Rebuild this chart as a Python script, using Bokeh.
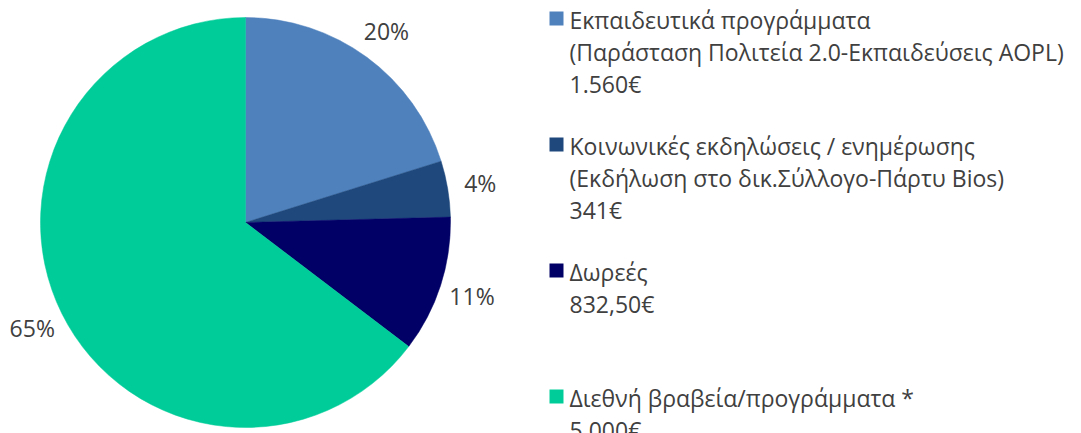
import numpy as np
from bokeh.plotting import figure
from bokeh.models import Range1d, ColumnDataSource
from bokeh.core.properties import value
from bokeh.embed import file_html
from bokeh.resources import INLINE

# ---- data ----
categories = [
    ["Εκπαιδευτικά προγράμματα", "(Παράσταση Πολιτεία 2.0-Εκπαιδεύσεις AOPL)"],
    ["Κοινωνικές εκδηλώσεις / ενημέρωσης", "(Εκδήλωση στο δικ.Σύλλογο-Πάρτυ Bios)"],
    ["Δωρεές"],
    ["Διεθνή βραβεία/προγράμματα  *"],
]
values = [1560, 341, 832.5, 5000]
amount_labels = ["1.560€", "341€", "832,50€", "5.000€"]
colors = ["#4F81BD", "#1F497D", "#000066", "#00CC99"]

W, H = 1081, 433
FONT = "Open Sans"
TXT = "#404040"
FS = "23px"

p = figure(width=W, height=H, output_backend="svg", toolbar_location=None,
           x_range=Range1d(0, W), y_range=Range1d(0, H),
           x_axis_location=None, y_axis_location=None, min_border=0)
p.grid.visible = False
p.outline_line_color = None
p.background_fill_color = "white"
p.border_fill_color = "white"

cx, cy, r = 245, H - 222, 205
vals = np.array(values, dtype=float)
frac = vals / vals.sum()
cum = np.concatenate([[0], np.cumsum(frac)])
start = np.pi / 2 - 2 * np.pi * cum[:-1]
end = np.pi / 2 - 2 * np.pi * cum[1:]
src = ColumnDataSource(dict(start=start, end=end, color=colors))
p.wedge(x=cx, y=cy, radius=r, start_angle="start", end_angle="end",
        direction="clock", fill_color="color", line_color="color", line_width=0.5, source=src)

# percent labels
mid = (start + end) / 2
lr = 238
pct = [f"{int(round(f * 100))}%" for f in frac]
p.text(x=cx + lr * np.cos(mid), y=cy + lr * np.sin(mid), text=pct,
       text_font=value(FONT), text_font_size=FS, text_color=TXT,
       text_align="center", text_baseline="middle")

# legend
lx, sq = 556, 14
sq_base0, txt_base0, item_step, line_step = 25, 19, 126, 32
tx, ty, tt = [], [], []
sx, sy, sc = [], [], []
for i, (lines, amt) in enumerate(zip(categories, amount_labels)):
    sx.append(lx); sy.append(H - (sq_base0 + item_step * i - sq / 2)); sc.append(colors[i])
    b = txt_base0 + item_step * i
    for j, t in enumerate(lines + [amt]):
        tx.append(569); ty.append(H - (b + line_step * j)); tt.append(t)
p.rect(x=sx, y=sy, width=sq, height=sq, fill_color=sc, line_color=None)
p.text(x=tx, y=ty, text=tt, text_font=value(FONT), text_font_size=FS,
       text_color=TXT, text_align="left", text_baseline="alphabetic")

open("out.html", "w").write(file_html(p, INLINE))
